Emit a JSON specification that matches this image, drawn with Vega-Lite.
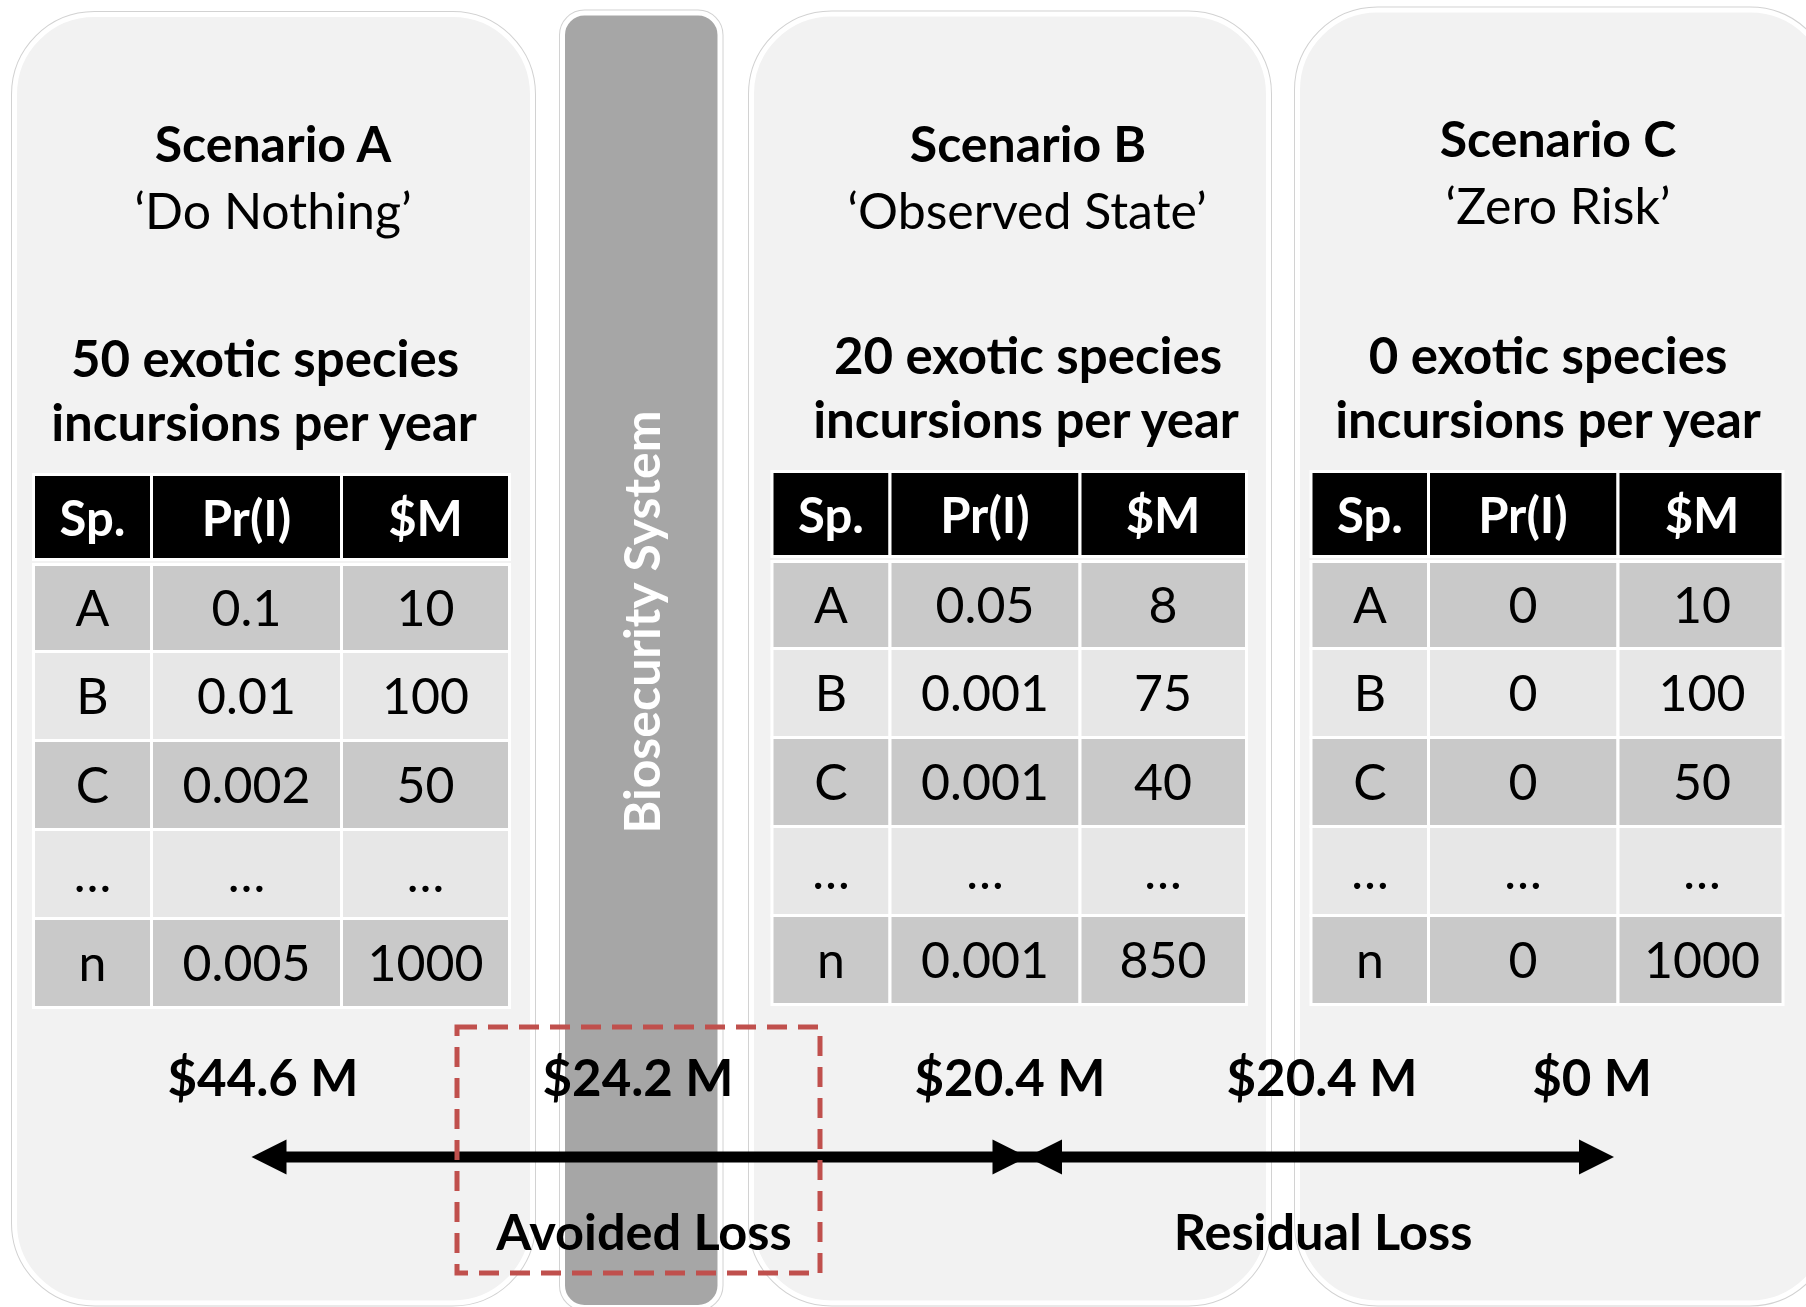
{
  "$schema": "https://vega.github.io/schema/vega-lite/v6.json",
  "width": 1806,
  "height": 1307,
  "padding": 0,
  "autosize": {"type": "none"},
  "background": "#ffffff",
  "config": {"view": {"stroke": null}, "text": {"font": "Lato"}},
  "datasets": {
    "panels": [
      {"scenario": "A", "x1": 14.5, "x2": 532.5, "y1": 14.5, "y2": 1303},
      {"scenario": "B", "x1": 751.5, "x2": 1268.5, "y1": 14, "y2": 1303},
      {"scenario": "C", "x1": 1297.5, "x2": 1830, "y1": 10, "y2": 1303}
    ],
    "bar": [
      {"label": "Biosecurity System", "x1": 562.5, "x2": 720, "y1": 13, "y2": 1307.5, "tx": 660, "ty": 622}
    ],
    "colgeo": [
      {"ck": "A1", "cx1": 33.5, "cx2": 151.5, "xc": 92.5},
      {"ck": "A2", "cx1": 151.5, "cx2": 341.5, "xc": 246.5},
      {"ck": "A3", "cx1": 341.5, "cx2": 509.5, "xc": 425.5},
      {"ck": "B1", "cx1": 772, "cx2": 890, "xc": 831},
      {"ck": "B2", "cx1": 890, "cx2": 1080, "xc": 985},
      {"ck": "B3", "cx1": 1080, "cx2": 1246.5, "xc": 1163},
      {"ck": "C1", "cx1": 1311, "cx2": 1428.5, "xc": 1370},
      {"ck": "C2", "cx1": 1428.5, "cx2": 1618, "xc": 1523},
      {"ck": "C3", "cx1": 1618, "cx2": 1783, "xc": 1702}
    ],
    "rowgeo": [
      {"rk": "A0", "ry1": 474.5, "ry2": 559.5, "yb": 536},
      {"rk": "A1", "ry1": 564.5, "ry2": 651.5, "yb": 626},
      {"rk": "A2", "ry1": 651.5, "ry2": 740.5, "yb": 714},
      {"rk": "A3", "ry1": 740.5, "ry2": 829.5, "yb": 803},
      {"rk": "A4", "ry1": 829.5, "ry2": 918.5, "yb": 892},
      {"rk": "A5", "ry1": 918.5, "ry2": 1007.5, "yb": 981},
      {"rk": "B0", "ry1": 471.5, "ry2": 556.5, "yb": 533},
      {"rk": "B1", "ry1": 561.5, "ry2": 648.5, "yb": 623},
      {"rk": "B2", "ry1": 648.5, "ry2": 737.5, "yb": 711},
      {"rk": "B3", "ry1": 737.5, "ry2": 826.5, "yb": 800},
      {"rk": "B4", "ry1": 826.5, "ry2": 915.5, "yb": 889},
      {"rk": "B5", "ry1": 915.5, "ry2": 1004.5, "yb": 978},
      {"rk": "C0", "ry1": 471.5, "ry2": 556.5, "yb": 533},
      {"rk": "C1", "ry1": 561.5, "ry2": 648.5, "yb": 623},
      {"rk": "C2", "ry1": 648.5, "ry2": 737.5, "yb": 711},
      {"rk": "C3", "ry1": 737.5, "ry2": 826.5, "yb": 800},
      {"rk": "C4", "ry1": 826.5, "ry2": 915.5, "yb": 889},
      {"rk": "C5", "ry1": 915.5, "ry2": 1004.5, "yb": 978}
    ],
    "cells": [
      {"s": "A", "sp": "Sp.", "v": "Sp.", "ck": "A1", "rk": "A0"},
      {"s": "A", "sp": "Sp.", "v": "Pr(I)", "ck": "A2", "rk": "A0"},
      {"s": "A", "sp": "Sp.", "v": "$M", "ck": "A3", "rk": "A0"},
      {"s": "A", "sp": "A", "v": "A", "ck": "A1", "rk": "A1"},
      {"s": "A", "sp": "A", "v": "0.1", "ck": "A2", "rk": "A1"},
      {"s": "A", "sp": "A", "v": "10", "ck": "A3", "rk": "A1"},
      {"s": "A", "sp": "B", "v": "B", "ck": "A1", "rk": "A2"},
      {"s": "A", "sp": "B", "v": "0.01", "ck": "A2", "rk": "A2"},
      {"s": "A", "sp": "B", "v": "100", "ck": "A3", "rk": "A2"},
      {"s": "A", "sp": "C", "v": "C", "ck": "A1", "rk": "A3"},
      {"s": "A", "sp": "C", "v": "0.002", "ck": "A2", "rk": "A3"},
      {"s": "A", "sp": "C", "v": "50", "ck": "A3", "rk": "A3"},
      {"s": "A", "sp": "…", "v": "…", "ck": "A1", "rk": "A4"},
      {"s": "A", "sp": "…", "v": "…", "ck": "A2", "rk": "A4"},
      {"s": "A", "sp": "…", "v": "…", "ck": "A3", "rk": "A4"},
      {"s": "A", "sp": "n", "v": "n", "ck": "A1", "rk": "A5"},
      {"s": "A", "sp": "n", "v": "0.005", "ck": "A2", "rk": "A5"},
      {"s": "A", "sp": "n", "v": "1000", "ck": "A3", "rk": "A5"},
      {"s": "B", "sp": "Sp.", "v": "Sp.", "ck": "B1", "rk": "B0"},
      {"s": "B", "sp": "Sp.", "v": "Pr(I)", "ck": "B2", "rk": "B0"},
      {"s": "B", "sp": "Sp.", "v": "$M", "ck": "B3", "rk": "B0"},
      {"s": "B", "sp": "A", "v": "A", "ck": "B1", "rk": "B1"},
      {"s": "B", "sp": "A", "v": "0.05", "ck": "B2", "rk": "B1"},
      {"s": "B", "sp": "A", "v": "8", "ck": "B3", "rk": "B1"},
      {"s": "B", "sp": "B", "v": "B", "ck": "B1", "rk": "B2"},
      {"s": "B", "sp": "B", "v": "0.001", "ck": "B2", "rk": "B2"},
      {"s": "B", "sp": "B", "v": "75", "ck": "B3", "rk": "B2"},
      {"s": "B", "sp": "C", "v": "C", "ck": "B1", "rk": "B3"},
      {"s": "B", "sp": "C", "v": "0.001", "ck": "B2", "rk": "B3"},
      {"s": "B", "sp": "C", "v": "40", "ck": "B3", "rk": "B3"},
      {"s": "B", "sp": "…", "v": "…", "ck": "B1", "rk": "B4"},
      {"s": "B", "sp": "…", "v": "…", "ck": "B2", "rk": "B4"},
      {"s": "B", "sp": "…", "v": "…", "ck": "B3", "rk": "B4"},
      {"s": "B", "sp": "n", "v": "n", "ck": "B1", "rk": "B5"},
      {"s": "B", "sp": "n", "v": "0.001", "ck": "B2", "rk": "B5"},
      {"s": "B", "sp": "n", "v": "850", "ck": "B3", "rk": "B5"},
      {"s": "C", "sp": "Sp.", "v": "Sp.", "ck": "C1", "rk": "C0"},
      {"s": "C", "sp": "Sp.", "v": "Pr(I)", "ck": "C2", "rk": "C0"},
      {"s": "C", "sp": "Sp.", "v": "$M", "ck": "C3", "rk": "C0"},
      {"s": "C", "sp": "A", "v": "A", "ck": "C1", "rk": "C1"},
      {"s": "C", "sp": "A", "v": "0", "ck": "C2", "rk": "C1"},
      {"s": "C", "sp": "A", "v": "10", "ck": "C3", "rk": "C1"},
      {"s": "C", "sp": "B", "v": "B", "ck": "C1", "rk": "C2"},
      {"s": "C", "sp": "B", "v": "0", "ck": "C2", "rk": "C2"},
      {"s": "C", "sp": "B", "v": "100", "ck": "C3", "rk": "C2"},
      {"s": "C", "sp": "C", "v": "C", "ck": "C1", "rk": "C3"},
      {"s": "C", "sp": "C", "v": "0", "ck": "C2", "rk": "C3"},
      {"s": "C", "sp": "C", "v": "50", "ck": "C3", "rk": "C3"},
      {"s": "C", "sp": "…", "v": "…", "ck": "C1", "rk": "C4"},
      {"s": "C", "sp": "…", "v": "…", "ck": "C2", "rk": "C4"},
      {"s": "C", "sp": "…", "v": "…", "ck": "C3", "rk": "C4"},
      {"s": "C", "sp": "n", "v": "n", "ck": "C1", "rk": "C5"},
      {"s": "C", "sp": "n", "v": "0", "ck": "C2", "rk": "C5"},
      {"s": "C", "sp": "n", "v": "1000", "ck": "C3", "rk": "C5"}
    ],
    "labels": [
      {"role": "scenario", "t": "Scenario A", "x": 273, "y": 162},
      {"role": "scenario", "t": "Scenario B", "x": 1028, "y": 162},
      {"role": "scenario", "t": "Scenario C", "x": 1558, "y": 157},
      {"role": "strategy", "t": "‘Do Nothing’", "x": 273, "y": 229},
      {"role": "strategy", "t": "‘Observed State’", "x": 1027, "y": 229},
      {"role": "strategy", "t": "‘Zero Risk’", "x": 1558, "y": 224},
      {"role": "rate", "t": "50 exotic species", "x": 265, "y": 377},
      {"role": "rate", "t": "incursions per year", "x": 264, "y": 441},
      {"role": "rate", "t": "20 exotic species", "x": 1028, "y": 374},
      {"role": "rate", "t": "incursions per year", "x": 1026, "y": 438},
      {"role": "rate", "t": "0 exotic species", "x": 1548, "y": 374},
      {"role": "rate", "t": "incursions per year", "x": 1548, "y": 438},
      {"role": "loss", "t": "$44.6 M", "x": 263, "y": 1096},
      {"role": "loss", "t": "$24.2 M", "x": 638, "y": 1096},
      {"role": "loss", "t": "$20.4 M", "x": 1010, "y": 1096},
      {"role": "loss", "t": "$20.4 M", "x": 1322, "y": 1096},
      {"role": "loss", "t": "$0 M", "x": 1592, "y": 1096},
      {"role": "caption", "t": "Avoided Loss", "x": 644, "y": 1250},
      {"role": "caption", "t": "Residual Loss", "x": 1323, "y": 1250}
    ],
    "shafts": [
      {"from": "$44.6 M", "to": "$0 M", "x1": 269, "x2": 1596, "y": 1157}
    ],
    "heads": [
      {"dir": "left", "x": 269, "y": 1157},
      {"dir": "right", "x": 1010, "y": 1157},
      {"dir": "left", "x": 1044.5, "y": 1157},
      {"dir": "right", "x": 1596.5, "y": 1157}
    ],
    "avoided": [
      {"region": "Avoided Loss", "x1": 457, "x2": 820, "y1": 1027, "y2": 1273}
    ]
  },
  "layer": [
    {
      "data": {"name": "panels"},
      "mark": {"type": "rect", "cornerRadius": 80, "fill": "#ffffff", "stroke": "#d2d2d2", "strokeWidth": 7, "clip": true},
      "encoding": {
        "x": {"field": "x1", "type": "quantitative", "scale": {"domain": [0, 1806], "nice": false, "zero": false}, "axis": null},
        "x2": {"field": "x2"},
        "y": {"field": "y1", "type": "quantitative", "scale": {"domain": [0, 1307], "nice": false, "zero": false, "reverse": true}, "axis": null},
        "y2": {"field": "y2"}
      }
    },
    {
      "data": {"name": "panels"},
      "mark": {"type": "rect", "cornerRadius": 80, "fill": "#f2f2f2", "stroke": "#ffffff", "strokeWidth": 5, "clip": true},
      "encoding": {
        "x": {"field": "x1", "type": "quantitative", "axis": null},
        "x2": {"field": "x2"},
        "y": {"field": "y1", "type": "quantitative", "axis": null},
        "y2": {"field": "y2"}
      }
    },
    {
      "data": {"name": "bar"},
      "mark": {"type": "rect", "cornerRadius": 22, "fill": "#ffffff", "stroke": "#d2d2d2", "strokeWidth": 7},
      "encoding": {
        "x": {"field": "x1", "type": "quantitative", "axis": null},
        "x2": {"field": "x2"},
        "y": {"field": "y1", "type": "quantitative", "axis": null},
        "y2": {"field": "y2"}
      }
    },
    {
      "data": {"name": "bar"},
      "mark": {"type": "rect", "cornerRadius": 22, "fill": "#a6a6a6", "stroke": "#ffffff", "strokeWidth": 5},
      "encoding": {
        "x": {"field": "x1", "type": "quantitative", "axis": null},
        "x2": {"field": "x2"},
        "y": {"field": "y1", "type": "quantitative", "axis": null},
        "y2": {"field": "y2"}
      }
    },
    {
      "data": {"name": "bar"},
      "mark": {"type": "text", "angle": 270, "align": "center", "baseline": "alphabetic", "fontSize": 50, "fontWeight": "bold", "color": "#ffffff"},
      "encoding": {
        "x": {"field": "tx", "type": "quantitative", "axis": null},
        "y": {"field": "ty", "type": "quantitative", "axis": null},
        "text": {"field": "label"}
      }
    },
    {
      "data": {"name": "cells"},
      "transform": [
        {"lookup": "ck", "from": {"data": {"name": "colgeo"}, "key": "ck", "fields": ["cx1", "cx2", "xc"]}},
        {"lookup": "rk", "from": {"data": {"name": "rowgeo"}, "key": "rk", "fields": ["ry1", "ry2", "yb"]}}
      ],
      "mark": {"type": "rect", "stroke": "#ffffff", "strokeWidth": 3},
      "encoding": {
        "x": {"field": "cx1", "type": "quantitative", "axis": null},
        "x2": {"field": "cx2"},
        "y": {"field": "ry1", "type": "quantitative", "axis": null},
        "y2": {"field": "ry2"},
        "color": {"field": "sp", "type": "nominal", "legend": null,
          "scale": {"domain": ["Sp.", "A", "B", "C", "…", "n"], "range": ["#000000", "#c9c9c9", "#e7e7e7", "#c9c9c9", "#e7e7e7", "#c9c9c9"]}},
        "opacity": {"value": 1}
      }
    },
    {
      "data": {"name": "cells"},
      "transform": [
        {"filter": "datum.sp !== 'Sp.'"},
        {"lookup": "ck", "from": {"data": {"name": "colgeo"}, "key": "ck", "fields": ["xc"]}},
        {"lookup": "rk", "from": {"data": {"name": "rowgeo"}, "key": "rk", "fields": ["yb"]}}
      ],
      "mark": {"type": "text", "align": "center", "baseline": "alphabetic", "fontSize": 50, "color": "#000000"},
      "encoding": {
        "x": {"field": "xc", "type": "quantitative", "axis": null},
        "y": {"field": "yb", "type": "quantitative", "axis": null},
        "text": {"field": "v"}
      }
    },
    {
      "data": {"name": "cells"},
      "transform": [
        {"filter": "datum.sp === 'Sp.'"},
        {"lookup": "ck", "from": {"data": {"name": "colgeo"}, "key": "ck", "fields": ["xc"]}},
        {"lookup": "rk", "from": {"data": {"name": "rowgeo"}, "key": "rk", "fields": ["yb"]}}
      ],
      "mark": {"type": "text", "align": "center", "baseline": "alphabetic", "fontSize": 49, "fontWeight": "bold", "color": "#ffffff"},
      "encoding": {
        "x": {"field": "xc", "type": "quantitative", "axis": null},
        "y": {"field": "yb", "type": "quantitative", "axis": null},
        "text": {"field": "v"}
      }
    },
    {
      "data": {"name": "labels"},
      "transform": [{"filter": "datum.role === 'scenario'"}],
      "mark": {"type": "text", "align": "center", "baseline": "alphabetic", "fontSize": 50, "fontWeight": "bold", "color": "#000000"},
      "encoding": {
        "x": {"field": "x", "type": "quantitative", "axis": null},
        "y": {"field": "y", "type": "quantitative", "axis": null},
        "text": {"field": "t"}
      }
    },
    {
      "data": {"name": "labels"},
      "transform": [{"filter": "datum.role === 'strategy'"}],
      "mark": {"type": "text", "align": "center", "baseline": "alphabetic", "fontSize": 50, "color": "#000000"},
      "encoding": {
        "x": {"field": "x", "type": "quantitative", "axis": null},
        "y": {"field": "y", "type": "quantitative", "axis": null},
        "text": {"field": "t"}
      }
    },
    {
      "data": {"name": "labels"},
      "transform": [{"filter": "datum.role === 'rate'"}],
      "mark": {"type": "text", "align": "center", "baseline": "alphabetic", "fontSize": 51, "fontWeight": "bold", "color": "#000000"},
      "encoding": {
        "x": {"field": "x", "type": "quantitative", "axis": null},
        "y": {"field": "y", "type": "quantitative", "axis": null},
        "text": {"field": "t"}
      }
    },
    {
      "data": {"name": "labels"},
      "transform": [{"filter": "datum.role === 'loss'"}],
      "mark": {"type": "text", "align": "center", "baseline": "alphabetic", "fontSize": 51, "fontWeight": "bold", "color": "#000000"},
      "encoding": {
        "x": {"field": "x", "type": "quantitative", "axis": null},
        "y": {"field": "y", "type": "quantitative", "axis": null},
        "text": {"field": "t"}
      }
    },
    {
      "data": {"name": "labels"},
      "transform": [{"filter": "datum.role === 'caption'"}],
      "mark": {"type": "text", "align": "center", "baseline": "alphabetic", "fontSize": 50.5, "fontWeight": "bold", "color": "#000000"},
      "encoding": {
        "x": {"field": "x", "type": "quantitative", "axis": null},
        "y": {"field": "y", "type": "quantitative", "axis": null},
        "text": {"field": "t"}
      }
    },
    {
      "data": {"name": "shafts"},
      "mark": {"type": "rule", "color": "#000000", "strokeWidth": 11, "strokeCap": "butt"},
      "encoding": {
        "x": {"field": "x1", "type": "quantitative", "axis": null},
        "x2": {"field": "x2"},
        "y": {"field": "y", "type": "quantitative", "axis": null}
      }
    },
    {
      "data": {"name": "heads"},
      "mark": {"type": "point", "filled": true, "size": 1225, "color": "#000000", "opacity": 1, "strokeWidth": 0},
      "encoding": {
        "x": {"field": "x", "type": "quantitative", "axis": null},
        "y": {"field": "y", "type": "quantitative", "axis": null},
        "shape": {"field": "dir", "type": "nominal", "legend": null,
          "scale": {"domain": ["left", "right"], "range": ["M-1,0L1,-1L1,1Z", "M1,0L-1,-1L-1,1Z"]}}
      }
    },
    {
      "data": {"name": "avoided"},
      "mark": {"type": "rect", "fill": null, "fillOpacity": 0, "stroke": "#c0504d", "strokeWidth": 5, "strokeDash": [20, 11]},
      "encoding": {
        "x": {"field": "x1", "type": "quantitative", "axis": null},
        "x2": {"field": "x2"},
        "y": {"field": "y1", "type": "quantitative", "axis": null},
        "y2": {"field": "y2"}
      }
    }
  ]
}
